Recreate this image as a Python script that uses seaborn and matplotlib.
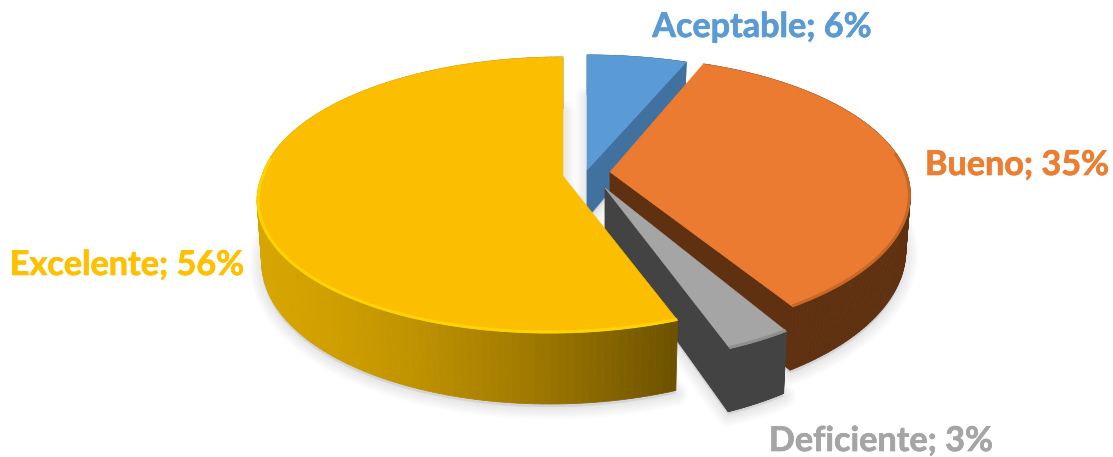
import numpy as np
import matplotlib
matplotlib.use("Agg")
import matplotlib.pyplot as plt
from matplotlib.collections import PolyCollection
from matplotlib.colors import to_rgb
import matplotlib.patheffects as pe
import seaborn as sns

categories = ["Aceptable", "Bueno", "Deficiente", "Excelente"]
shares = [6, 35, 3, 56]
top_colors = ["#5B9BD5", "#EB7B30", "#A5A5A5", "#FBBE00"]
wall_near = ["#41719F", "#5F3111", "#434343", "#6E5200"]
wall_far = ["#41719F", "#5F3111", "#434343", "#D7A500"]
rim_colors = ["#5B9BD5", "#C46525", "#8C8C8C", "#FFD800"]
label_colors = ["#5B9BD5", "#ED7D31", "#A5A5A5", "#FFC000"]

# Exploded-slice layout: apex in canvas pixels, half height, perspective shift,
# half width, extrusion depth and front lean.
layout = {
    "Aceptable": dict(ax=587, ay=170, h=135, c=20, w=310, d=48, lean=0.0),
    "Bueno": dict(ax=610, ay=172, h=140, c=25, w=301, d=54, lean=0.03),
    "Deficiente": dict(ax=605, ay=188, h=150, c=25, w=302, d=52, lean=0.03),
    "Excelente": dict(ax=563, ay=176, h=138, c=19, w=304, d=60, lean=0.087),
}
label_pos = {
    "Aceptable": (762, 27),
    "Bueno": (1017, 165),
    "Deficiente": (881, 441),
    "Excelente": (127, 265),
}

sns.set_theme(style="white")
plt.rcParams["font.family"] = ["Lato", "DejaVu Sans"]
palette = sns.color_palette(top_colors)


def project(theta, s, bottom=False):
    """Map disc angles (clockwise from 12 o'clock) to canvas pixels."""
    u, v = np.sin(theta), np.cos(theta)
    k = s["c"] / s["h"]
    den = 1 + k * v
    rx = s["w"] * np.sqrt(1 - k ** 2) * u / den
    ry = (s["h"] * v + s["c"]) / den - s["c"]
    rx = rx + s["lean"] * np.minimum(ry, 0)
    if bottom:
        return s["ax"] + 0.985 * rx, s["ay"] + s["d"] - 1.07 * ry
    return s["ax"] + rx, s["ay"] - ry


def mix(a, b, t):
    a, b = np.array(to_rgb(a)), np.array(to_rgb(b))
    return tuple(a + (b - a) * t)


fig = plt.figure(figsize=(11.13, 4.57), dpi=100)
ax = fig.add_axes([0, 0, 1, 1])
ax.set_xlim(0, 1113)
ax.set_ylim(457, 0)
ax.axis("off")

edges = np.deg2rad(np.cumsum([0] + shares) * 3.6)
spans = list(zip(categories, edges[:-1], edges[1:]))

# Soft ground shadows under every slice
for name, t0, t1 in spans:
    s = layout[name]
    th = np.linspace(t0, t1, 120)
    bx, by = project(th, s, bottom=True)
    px = np.r_[s["ax"], bx]
    py = np.r_[s["ay"] + s["d"], by]
    for grow in range(1, 9):
        ax.fill(px, py + 3, facecolor="#8A8A96", edgecolor="#8A8A96",
                linewidth=grow * 2.2, alpha=0.022, joinstyle="round", zorder=1)

for i, (name, t0, t1) in enumerate(spans):
    s = layout[name]
    z = 2 + i
    th = np.linspace(t0, t1, 160)
    tx, ty = project(th, s)
    bx, by = project(th, s, bottom=True)

    # Outer curved wall as narrow strips, shaded from left to right
    quads, shades = [], []
    for j in range(len(th) - 1):
        quads.append([(tx[j], ty[j]), (tx[j + 1], ty[j + 1]),
                      (bx[j + 1], by[j + 1]), (bx[j], by[j])])
        frac = np.clip((bx[j] - 263) / 412, 0, 1) ** 1.5
        shades.append(mix(wall_far[i], wall_near[i], frac))
    ax.add_collection(PolyCollection(quads, facecolors=shades, edgecolors=shades,
                                     linewidths=0.6, zorder=z))

    # Flat cut face, only where it turns towards the viewer
    if np.sin(t1) > 1e-6:
        ax.fill([s["ax"], tx[-1], bx[-1], s["ax"]],
                [s["ay"], ty[-1], by[-1], s["ay"] + s["d"]],
                color=wall_near[i], linewidth=0.6, zorder=z)

    # Top surface and its bevelled rim
    ax.fill(np.r_[s["ax"], tx], np.r_[s["ay"], ty], color=palette[i],
            linewidth=0.4, zorder=z)
    front = np.cos(th) < 0.15
    rx_, ry_ = project(th, {**s, "w": s["w"] - 1, "h": s["h"] - 1})
    ax.plot(np.where(front, rx_, np.nan), np.where(front, ry_, np.nan),
            color=rim_colors[i], lw=2.2, alpha=0.85, solid_capstyle="butt", zorder=z)

for name, value, colour in zip(categories, shares, label_colors):
    x, y = label_pos[name]
    ax.text(x, y, f"{name}; {value}%", color=colour, fontsize=24.6, fontweight="bold",
            ha="center", va="center", zorder=10,
            path_effects=[pe.withStroke(linewidth=0.5, foreground=colour)])

fig.savefig("out.png", dpi=100, facecolor="white")
